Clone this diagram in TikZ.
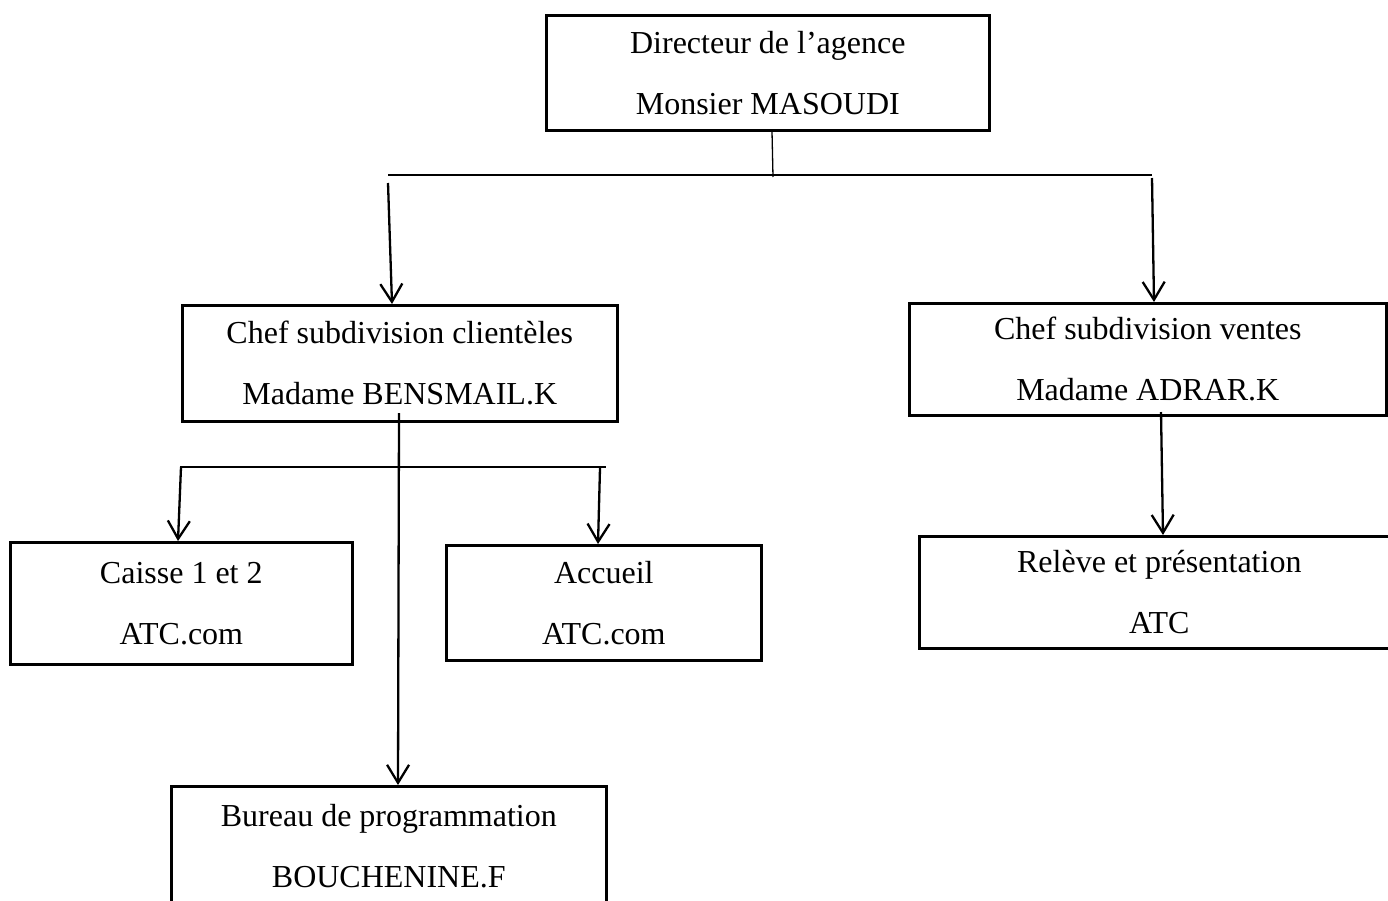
\documentclass[tikz,border=0pt]{standalone}
\usepackage{fontspec}
\setmainfont{Liberation Serif}
\usetikzlibrary{arrows.meta}
\begin{document}
\begin{tikzpicture}[x=1pt,y=-1pt,
  box/.style={draw,line width=2.6pt,inner sep=0pt,align=center,anchor=north west,
    font=\fontsize{32}{61}\selectfont},
  arr/.style={line width=2.3pt,-{Straight Barb[length=18pt,width=22pt,line width=2.3pt]}},
  thin/.style={line width=1.3pt}]
\useasboundingbox (0,0) rectangle (1388,900);
\clip (0,0) rectangle (1388,900);
\fill[white] (0,0) rectangle (1388,900);
% boxes
\node[box,minimum width=443pt,minimum height=115pt] (dir) at (545,14) {Directeur de l’agence\\Monsier MASOUDI};
\node[box,minimum width=435pt,minimum height=116pt] (cli) at (181,304) {Chef subdivision clientèles\\Madame BENSMAIL.K};
\node[box,minimum width=477pt,minimum height=112pt] (ven) at (908,302) {Chef subdivision ventes\\Madame ADRAR.K};
\node[box,minimum width=342pt,minimum height=122pt] (cai) at (9,541) {Caisse 1 et 2\\ATC.com};
\node[box,minimum width=315pt,minimum height=115pt] (acc) at (445,544) {Accueil\\ATC.com};
\node[box,minimum width=480pt,minimum height=112pt] (rel) at (918,535) {Relève et présentation\\ATC};
\node[box,minimum width=435pt,minimum height=120pt] (bur) at (170,785) {Bureau de programmation\\BOUCHENINE.F};
% top distribution
\coordinate (hL) at (388,175);
\coordinate (hR) at (1152,175);
\coordinate (hM) at (773,177);
\draw[thin] (dir.south -| 772,0) -- (hM);
\draw[thin] (hL) -- (hR);
\coordinate (aL) at (388,183);
\coordinate (aR) at (1152,178);
\draw[arr] (aL) -- ([xshift=211pt]cli.north west);
\draw[arr] (aR) -- ([xshift=246pt]ven.north west);
% clientèles distribution
\coordinate (kL) at (180,467);
\coordinate (kR) at (606,467);
\coordinate (kL2) at (181,467);
\coordinate (kR2) at (600,468);
\draw[thin] (kL) -- (kR);
\draw[arr] (kL2) -- ([xshift=169pt]cai.north west);
\draw[arr] (kR2) -- ([xshift=153pt]acc.north west);
\coordinate (bS) at (399,413);
\draw[arr] (bS) -- ([xshift=228pt]bur.north west);
% ventes
\coordinate (vS) at (1161,412);
\draw[arr] (vS) -- ([xshift=245pt]rel.north west);
\end{tikzpicture}
\end{document}
